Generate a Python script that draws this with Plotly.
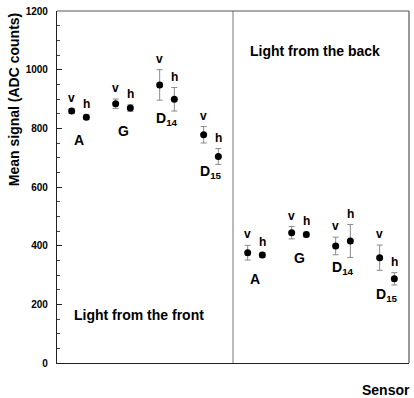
import plotly.graph_objects as go

# ---- data ----
sensors = ["A", "G", "D<sub>14</sub>", "D<sub>15</sub>"]
front_v = [859, 884, 948, 778]
front_v_err = [8, 16, 52, 28]
front_h = [838, 869, 899, 704]
front_h_err = [8, 11, 40, 27]
back_v = [376, 444, 399, 359]
back_v_err = [25, 21, 30, 43]
back_h = [368, 438, 416, 287]
back_h_err = [8, 8, 56, 21]

FONT = "Liberation Sans, Arial, Helvetica, sans-serif"
ERR_COLOR = "#8a8a8a"

fig = go.Figure()

groups = [
    (0, front_v, front_v_err, front_h, front_h_err),
    (12, back_v, back_v_err, back_h, back_h_err),
]

# sensor-label drop below the lower end of the pair (px), per side/sensor
label_drop = {0: [20, 20, 8, 8], 12: [19, 19, 11, 10]}

annotations = []
for off, v, ve, h, he in groups:
    xv = [off + 1 + 3 * i for i in range(len(sensors))]
    xh = [off + 2 + 3 * i for i in range(len(sensors))]
    for xs, ys, es in ((xv, v, ve), (xh, h, he)):
        fig.add_trace(go.Scatter(
            x=xs, y=ys, mode="markers",
            marker=dict(color="black", size=7),
            error_y=dict(type="data", array=es, visible=True,
                         color=ERR_COLOR, thickness=1, width=3),
            showlegend=False, hoverinfo="skip"))
    for i, s in enumerate(sensors):
        for xx, yy, ee, lab in ((xv[i], v[i], ve[i], "v"), (xh[i], h[i], he[i], "h")):
            annotations.append(dict(
                x=xx, y=yy + ee, xref="x", yref="y", text="<b>%s</b>" % lab,
                showarrow=False, yanchor="middle", yshift=11,
                font=dict(family=FONT, size=12, color="black")))
        low = min(v[i] - ve[i], h[i] - he[i])
        annotations.append(dict(
            x=(xv[i] + xh[i]) / 2.0, y=low, xref="x", yref="y",
            text="<b>%s</b>" % s, showarrow=False, yanchor="middle",
            yshift=-label_drop[off][i],
            font=dict(family=FONT, size=14, color="black")))

annotations += [
    dict(x=13.05, y=1065, xref="x", yref="y", text="<b>Light from the back</b>",
         showarrow=False, xanchor="left", yanchor="middle",
         font=dict(family=FONT, size=14, color="black")),
    dict(x=1.05, y=165, xref="x", yref="y", text="<b>Light from the front</b>",
         showarrow=False, xanchor="left", yanchor="middle",
         font=dict(family=FONT, size=14, color="black")),
    dict(x=0, y=896, xref="paper", yref="y", xshift=-43, text="<b>Mean signal (ADC counts)</b>",
         textangle=-90, showarrow=False, xanchor="center", yanchor="middle",
         font=dict(family=FONT, size=14, color="black")),
    dict(x=1, y=0, xref="paper", yref="paper", yshift=-27, xshift=3, text="<b>Sensor</b>",
         showarrow=False, xanchor="right", yanchor="middle",
         font=dict(family=FONT, size=14, color="black")),
]

shapes = [
    dict(type="line", xref="x", yref="paper", x0=12, x1=12, y0=0, y1=1,
         line=dict(color="#777777", width=1)),
    dict(type="line", xref="paper", yref="paper", x0=0, x1=1, y0=1, y1=1,
         line=dict(color="#555555", width=1)),
    dict(type="line", xref="paper", yref="paper", x0=1, x1=1, y0=0, y1=1,
         line=dict(color="#555555", width=1.2)),
]

fig.update_layout(
    width=414, height=398,
    margin=dict(l=57, r=5, t=8, b=35),
    paper_bgcolor="white", plot_bgcolor="white",
    annotations=annotations, shapes=shapes,
    xaxis=dict(range=[0, 24], showgrid=False, zeroline=False, showticklabels=False,
               ticks="", showline=True, linecolor="#222222", linewidth=1.2),
    yaxis=dict(range=[0, 1200], dtick=200, tick0=0, showgrid=False, zeroline=False,
               showline=True, linecolor="#222222", linewidth=1.2,
               ticks="inside", ticklen=5, tickcolor="#222222",
               ticklabelstandoff=6,
               tickfont=dict(family=FONT, size=10, color="black", weight="bold"),
               minor=dict(dtick=50, ticks="inside", ticklen=3, tickcolor="#444444")),
)

fig.write_html("out.html")
